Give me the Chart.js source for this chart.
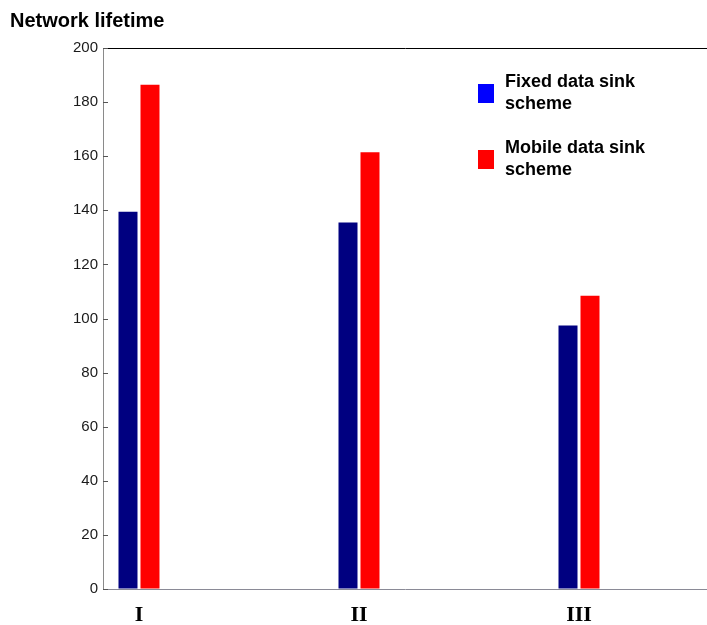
<!DOCTYPE html>
<html>
<head>
<meta charset="utf-8">
<script src="https://cdn.jsdelivr.net/npm/chart.js@4"></script>
<style>
  html, body { margin: 0; padding: 0; background: #fff; }
  canvas { display: block; }
</style>
</head>
<body>
<canvas id="chart" width="707" height="625"></canvas>
<script>
// values
const categories = ['I', 'II', 'III'];
const positions = [1, 2, 3];
const fixedSink = [140, 136, 98];
const mobileSink = [187, 162, 109];
const seriesNames = ['Fixed data sink scheme', 'Mobile data sink scheme'];
const yTicks = [0, 20, 40, 60, 80, 100, 120, 140, 160, 180, 200];

const ctx = document.getElementById('chart').getContext('2d');

const legendColors = ['#0000ff', '#ff0000'];

// legend sits inside the plot, two lines per entry
const boxLegend = {
  id: 'boxLegend',
  afterDraw(chart) {
    const c = chart.ctx;
    const rows = [{ y: 84 }, { y: 150 }];
    c.save();
    c.font = 'bold 18px "Liberation Sans", Arial, sans-serif';
    c.textBaseline = 'alphabetic';
    chart.data.datasets.forEach((ds, i) => {
      const y = rows[i].y;
      c.fillStyle = legendColors[i];
      c.fillRect(478, y, 16, 19);
      c.fillStyle = '#000';
      const words = ds.label.split(' ');
      const last = words.pop();
      c.fillText(words.join(' '), 505, y + 3);
      c.fillText(last, 505, y + 24.5);
    });
    c.restore();
  }
};

// matlab style tick marks pointing into the plot
const innerTicks = {
  id: 'innerTicks',
  afterDatasetsDraw(chart) {
    const c = chart.ctx;
    const y = chart.scales.y;
    const left = chart.chartArea.left;
    c.save();
    c.strokeStyle = '#555';
    c.lineWidth = 1;
    yTicks.forEach(v => {
      const py = Math.round(y.getPixelForValue(v)) + 0.5;
      c.beginPath();
      c.moveTo(left, py);
      c.lineTo(left + 5, py);
      c.stroke();
    });
    c.restore();
  }
};

const xMin = 0.8364, xMax = 3.5818;

let chart = new Chart(ctx, {
  type: 'bar',
  data: {
    datasets: [{
      label: seriesNames[0],
      data: positions.map((x, i) => ({ x: x, y: fixedSink[i] })),
      backgroundColor: '#000080',
      borderColor: '#000066',
      borderWidth: 1,
      barThickness: 22,
      inflateAmount: -0.5
    }, {
      label: seriesNames[1],
      data: positions.map((x, i) => ({ x: x, y: mobileSink[i] })),
      backgroundColor: '#ff0000',
      borderColor: '#cc1030',
      borderWidth: 1,
      barThickness: 22,
      inflateAmount: -0.5
    }]
  },
  options: {
    responsive: false,
    animation: false,
    layout: { padding: { left: 10, right: 0, top: 0, bottom: 0 } },
    plugins: {
      legend: { display: false },
      tooltip: { enabled: false },
      title: {
        display: true,
        text: 'Network lifetime',
        align: 'start',
        color: '#000',
        font: { family: '"Liberation Sans", Arial, sans-serif', size: 20, weight: 'bold' },
        padding: { top: 9, bottom: 15 }
      }
    },
    scales: {
      x: {
        type: 'linear',
        position: 'bottom',
        offset: false,
        min: xMin,
        max: xMax,
        afterBuildTicks: s => { s.ticks = positions.map(v => ({ value: v })); },
        afterFit: s => { s.height = 36; },
        ticks: {
          padding: 5,
          color: '#000',
          font: { family: '"Liberation Serif", "Times New Roman", serif', size: 22, weight: 'bold' },
          callback: v => categories[positions.indexOf(v)] || ''
        },
        grid: { display: false, offset: false },
        border: { display: true, color: '#8a8a96', width: 1 }
      },
      x2: {
        type: 'linear',
        position: 'top',
        offset: false,
        min: xMin,
        max: xMax,
        afterFit: s => { s.height = 0; },
        ticks: { display: false },
        grid: { display: false, offset: false },
        border: { display: true, color: '#000', width: 1 }
      },
      y: {
        min: 0,
        max: 200,
        afterBuildTicks: s => { s.ticks = yTicks.map(v => ({ value: v })); },
        afterFit: s => { s.width = 93; },
        ticks: {
          padding: 5,
          color: '#1a1a1a',
          font: { family: '"Liberation Sans", Arial, sans-serif', size: 15 }
        },
        grid: { display: false, drawTicks: false },
        border: { display: true, color: '#8a8a8a', width: 1 }
      }
    }
  },
  plugins: [boxLegend, innerTicks]
});
</script>
</body>
</html>
